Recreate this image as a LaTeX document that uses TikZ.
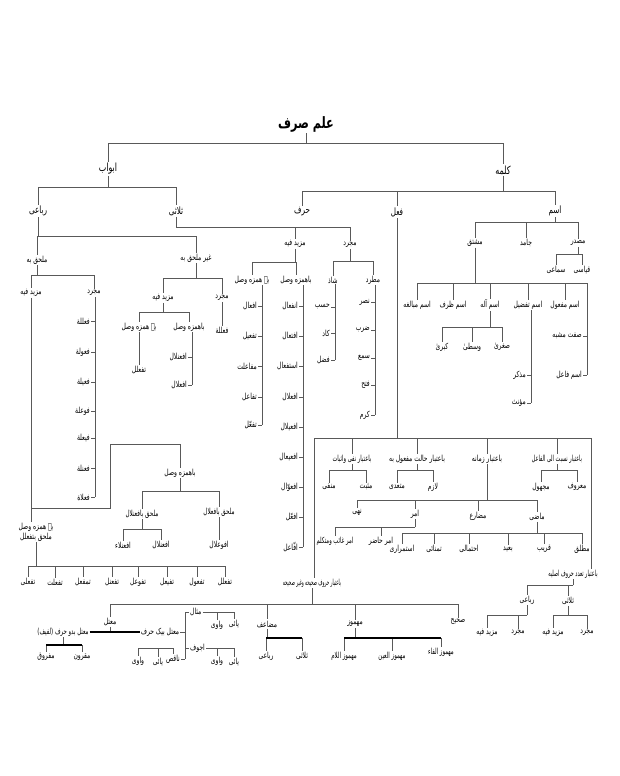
\documentclass[tikz,border=0pt]{standalone}
\usepackage{fontspec}
\usepackage{graphicx}
\TeXXeTstate=1
\newfontfamily\urfont[Script=Arabic]{DejaVu Sans}
\newcommand\ur[2][0.8]{\scalebox{#1}[1.12]{\beginR #2\endR}}
\newcommand\tb[3]{%
  \coordinate (tbY) at (0,#2);%
  \draw[ln] (#1.south) -- (#1.south |- tbY);%
  \foreach \c in {#3}{\draw[ln] (#1.south |- tbY) -| (\c.north);}%
}
\newcommand\tk[4]{%
  \coordinate (tkX) at (#2,0);%
  \draw[ln] (tkX |- #1.south) -- (tkX |- #4.east);%
  \foreach \c in {#3}{\draw[ln] (\c.east) -- (\c.east -| tkX);}%
}
\begin{document}
\begin{tikzpicture}[x=1pt,y=-1pt,
  ln/.style={draw=black!65,line width=0.55pt},
  thk/.style={draw=black,line width=1.4pt},
  lb/.style={inner sep=1pt,font=\urfont\fontsize{7.5}{9}\selectfont},
  l1/.style={lb,font=\urfont\fontsize{10}{11}\selectfont},
  l2/.style={lb,font=\urfont\fontsize{9}{10}\selectfont}]
\useasboundingbox (0,0) rectangle (620,776);
\fill[white] (0,0) rectangle (620,776);

% ---------- top
\node[lb,font=\urfont\bfseries\fontsize{14}{15}\selectfont] (root) at (306,124) {\ur{علم صرف}};
\node[l1] (abwab) at (108,169) {\ur{ابواب}};
\node[l1] (kalima) at (503,170) {\ur{کلمه}};
\node[l2] (rubai) at (38,211) {\ur{رباعی}};
\node[l2] (thulathi) at (176,211) {\ur{ثلاثی}};
\node[l2] (harf) at (302,212) {\ur{حرف}};
\node[l2] (fil) at (397,212) {\ur{فعل}};
\node[l2] (ism) at (555,211) {\ur{اسم}};
\tb{root}{143}{abwab,kalima}
\tb{abwab}{187}{rubai,thulathi}
\tb{kalima}{191}{harf,fil,ism}

% ---------- rubai
\node[lb] (mulhaq) at (37,260) {\ur{ملحق به}};
\node[lb] (ghair) at (196,258) {\ur{غیر ملحق به}};
\tb{rubai}{236}{mulhaq,ghair}
\node[lb] (mzA) at (31,293) {\ur{مزید فیه}};
\node[lb] (mjA) at (94,293) {\ur{مجرد}};
\tb{mulhaq}{275}{mzA,mjA}
\node[lb,anchor=east] (fa1) at (91,321) {\ur{فعللة}};
\node[lb,anchor=east] (fa2) at (91,352) {\ur{فعولة}};
\node[lb,anchor=east] (fa3) at (91,382) {\ur{فعیلة}};
\node[lb,anchor=east] (fa4) at (91,411) {\ur{فوعلة}};
\node[lb,anchor=east] (fa5) at (91,438) {\ur{فیعلة}};
\node[lb,anchor=east] (fa6) at (91,468) {\ur{فعنلة}};
\node[lb,anchor=east] (fa7) at (91,497) {\ur{فعلاة}};
\tk{mjA}{95}{fa1,fa2,fa3,fa4,fa5,fa6,fa7}{fa7}

\node[lb] (mzB) at (163,298) {\ur{مزید فیه}};
\node[lb] (mjB) at (222,298) {\ur{مجرد}};
\tb{ghair}{278}{mzB,mjB}
\node[lb] (fallala) at (222,330) {\ur{فعللة}};
\draw[ln] (mjB.south) -- (mjB.south |- fallala.north);
\node[lb] (bhB) at (139,327) {\ur{بے همزه وصل}};
\node[lb] (bwB) at (189,327) {\ur{باهمزه وصل}};
\tb{mzB}{312}{bhB,bwB}
\node[lb] (tafallul) at (139,370) {\ur{تفعلل}};
\draw[ln] (bhB.south) -- (bhB.south |- tafallul.north);
\node[lb,anchor=east] (ib1) at (188,357) {\ur{افعنلال}};
\node[lb,anchor=east] (ib2) at (188,385) {\ur{افعلال}};
\tk{bwB}{192}{ib1,ib2}{ib2}

% mulhaq mazid fih
\node[lb,align=center] (bhR) at (36,532) {\ur{بے همزه وصل}\\[1pt]\ur{ملحق بتفعلل}};
\node[lb] (bwR) at (180,473) {\ur{باهمزه وصل}};
\coordinate (r1) at (110,508);
\coordinate (r2) at (110,444);
\draw[ln] (mzA.south) -- (mzA.south |- bhR.north);
\draw[ln] (mzA.south |- r1) -- (r1) -- (r2) -| (bwR.north);
\node[lb] (mulhaqA) at (142,514) {\ur[0.75]{ملحق بافعنلال}};
\node[lb] (mulhaqB) at (219,512) {\ur[0.75]{ملحق بافعلال}};
\tb{bwR}{491}{mulhaqA,mulhaqB}
\node[lb] (ifanlaa) at (123,545) {\ur{افعنلاء}};
\node[lb] (ifanlal) at (161,545) {\ur{افعنلال}};
\tb{mulhaqA}{529}{ifanlaa,ifanlal}
\node[lb] (ifawlal) at (219,545) {\ur{افوعلال}};
\draw[ln] (mulhaqB.south) -- (mulhaqB.south |- ifawlal.north);
\node[lb] (b1) at (28,582) {\ur{تفعلی}};
\node[lb] (b2) at (55,582) {\ur{تفعلت}};
\node[lb] (b3) at (83,582) {\ur{تمفعل}};
\node[lb] (b4) at (112,582) {\ur{تفعنل}};
\node[lb] (b5) at (138,582) {\ur{تفوعل}};
\node[lb] (b6) at (167,582) {\ur{تفیعل}};
\node[lb] (b7) at (197,582) {\ur{تفعول}};
\node[lb] (b8) at (225,582) {\ur{تفعلل}};
\tb{bhR}{566}{b1,b2,b3,b4,b5,b6,b7,b8}

% ---------- thulathi / harf
\node[lb] (mzH) at (295,244) {\ur{مزید فیه}};
\node[lb] (mjH) at (350,245) {\ur{مجرد}};
\tb{thulathi}{227}{mzH,mjH}
\node[lb] (bhH) at (252,280) {\ur{بے همزه وصل}};
\node[lb] (bwH) at (296,280) {\ur{باهمزه وصل}};
\tb{mzH}{262}{bhH,bwH}
\node[lb,anchor=east] (h1) at (258,306) {\ur{افعال}};
\node[lb,anchor=east] (h2) at (258,336) {\ur{تفعیل}};
\node[lb,anchor=east] (h3) at (258,366) {\ur{مفاعلت}};
\node[lb,anchor=east] (h4) at (258,397) {\ur{تفاعل}};
\node[lb,anchor=east] (h5) at (258,425) {\ur{تفعّل}};
\tk{bhH}{262}{h1,h2,h3,h4,h5}{h5}
\node[lb,anchor=east] (g1) at (299,306) {\ur{انفعال}};
\node[lb,anchor=east] (g2) at (299,336) {\ur{افتعال}};
\node[lb,anchor=east] (g3) at (299,366) {\ur{استفعال}};
\node[lb,anchor=east] (g4) at (299,397) {\ur{افعلال}};
\node[lb,anchor=east] (g5) at (299,427) {\ur{افعیلال}};
\node[lb,anchor=east] (g6) at (299,457) {\ur{افعیعال}};
\node[lb,anchor=east] (g7) at (299,487) {\ur{افعوّال}};
\node[lb,anchor=east] (g8) at (299,517) {\ur{افعّل}};
\node[lb,anchor=east] (g9) at (299,547) {\ur{افّاعل}};
\tk{bwH}{303}{g1,g2,g3,g4,g5,g6,g7,g8,g9}{g9}
\node[lb] (shadh) at (333,280) {\ur{شاذ}};
\node[lb] (mutarrid) at (373,280) {\ur{مطرد}};
\tb{mjH}{261}{shadh,mutarrid}
\node[lb,anchor=east] (s1) at (331,307) {\ur{حسب}};
\node[lb,anchor=east] (s2) at (331,333) {\ur{کاد}};
\node[lb,anchor=east] (s3) at (331,360) {\ur{فضل}};
\tk{shadh}{335}{s1,s2,s3}{s3}
\node[lb,anchor=east] (m1) at (371,302) {\ur{نصر}};
\node[lb,anchor=east] (m2) at (371,330) {\ur{ضرب}};
\node[lb,anchor=east] (m3) at (371,358) {\ur{سمع}};
\node[lb,anchor=east] (m4) at (371,385) {\ur{فتح}};
\node[lb,anchor=east] (m5) at (371,415) {\ur{کرم}};
\tk{mutarrid}{375}{m1,m2,m3,m4,m5}{m5}

% ---------- ism
\node[lb] (mushtaq) at (475,243) {\ur{مشتق}};
\node[lb] (jamid) at (526,243) {\ur{جامد}};
\node[lb] (masdar) at (578,243) {\ur{مصدر}};
\tb{ism}{222}{mushtaq,jamid,masdar}
\node[lb] (samai) at (556,270) {\ur{سماعی}};
\node[lb] (qiyasi) at (582,270) {\ur{قیاسی}};
\tb{masdar}{254}{samai,qiyasi}
\node[lb] (mubalagha) at (417,305) {\ur{اسم مبالغه}};
\node[lb] (zarf) at (453,305) {\ur{اسم ظرف}};
\node[lb] (ala) at (490,305) {\ur{اسم آله}};
\node[lb] (tafzil) at (528,305) {\ur{اسم تفضیل}};
\node[lb] (mafool) at (565,305) {\ur{اسم مفعول}};
\tb{mushtaq}{283}{mubalagha,zarf,ala,tafzil,mafool}
\node[lb,anchor=east] (sifat) at (583,336) {\ur{صفت مشبه}};
\node[lb,anchor=east] (fail) at (583,375) {\ur{اسم فاعل}};
\coordinate (mR) at (587,283);
\draw[ln] (mafool.north |- mR) -- (mR) -- (mR |- fail.east);
\draw[ln] (sifat.east) -- (sifat.east -| mR);
\draw[ln] (fail.east) -- (fail.east -| mR);
\node[lb] (kubra) at (442,347) {\ur{کبریٰ}};
\node[lb] (wusta) at (472,347) {\ur{وسطیٰ}};
\node[lb] (sughra) at (502,347) {\ur{صغریٰ}};
\tb{ala}{327}{kubra,wusta,sughra}
\node[lb,anchor=east] (mudhakkar) at (527,375) {\ur{مذکر}};
\node[lb,anchor=east] (muannath) at (527,403) {\ur{مؤنث}};
\tk{tafzil}{531}{mudhakkar,muannath}{muannath}

% ---------- fil
\node[lb] (nafi) at (352,459) {\ur[0.7]{باعتبار نفی واثبات}};
\node[lb] (halat) at (417,459) {\ur{باعتبار حالت مفعول به}};
\node[lb] (zamana) at (487,459) {\ur{باعتبار زمانه}};
\node[lb] (nisbat) at (557,459) {\ur[0.66]{باعتبار نسبت الی الفاعل}};
\node[lb] (taaddud) at (573,574) {\ur[0.64]{باعتبار تعدد حروف اصلیه}};
\node[lb] (huruf) at (312,583) {\ur[0.54]{باعتبار حروف صحیحه وغیر صحیحه}};
\coordinate (fl) at (314,438);
\coordinate (fr) at (591,438);
\draw[ln] (fil.south) -- (fil.south |- fl);
\draw[ln] (fl) -- (fr);
\draw[ln] (fl) -- (fl |- huruf.north);
\draw[ln] (fr) -- (fr |- taaddud.north);
\foreach \c in {nafi,halat,zamana,nisbat}{\draw[ln] (\c.north |- fl) -- (\c.north);}

\node[lb] (manfi) at (329,487) {\ur{منفی}};
\node[lb] (muthbat) at (366,487) {\ur{مثبت}};
\tb{nafi}{470}{manfi,muthbat}
\node[lb] (mutaaddi) at (397,487) {\ur{متعدی}};
\node[lb] (lazim) at (433,487) {\ur{لازم}};
\tb{halat}{470}{mutaaddi,lazim}
\node[lb] (majhul) at (541,487) {\ur{مجهول}};
\node[lb] (maruf) at (577,487) {\ur{معروف}};
\tb{nisbat}{470}{majhul,maruf}
\node[lb] (nahi) at (357,512) {\ur{نهی}};
\node[lb] (amr) at (415,514) {\ur{امر}};
\node[lb] (mudari) at (478,516) {\ur{مضارع}};
\node[lb] (mazi) at (537,517) {\ur{ماضی}};
\tb{zamana}{500}{nahi,amr,mudari,mazi}
\node[lb] (amrghaib) at (335,541) {\ur[0.7]{امر غائب ومتکلم}};
\node[lb] (amrhazir) at (381,541) {\ur{امر حاضر}};
\tb{amr}{527}{amrghaib,amrhazir}
\node[lb] (istimrari) at (402,549) {\ur{استمراری}};
\node[lb] (tamannai) at (434,549) {\ur{تمنائی}};
\node[lb] (ihtimali) at (469,549) {\ur{احتمالی}};
\node[lb] (baid) at (508,549) {\ur{بعید}};
\node[lb] (qarib) at (544,549) {\ur{قریب}};
\node[lb] (mutlaq) at (582,549) {\ur{مطلق}};
\tb{mazi}{533}{istimrari,tamannai,ihtimali,baid,qarib,mutlaq}
\node[lb] (rubaiB) at (527,600) {\ur{رباعی}};
\node[lb] (thulathiB) at (568,601) {\ur{ثلاثی}};
\tb{taaddud}{585}{rubaiB,thulathiB}
\node[lb] (mzR1) at (487,633) {\ur{مزید فیه}};
\node[lb] (mjR1) at (518,633) {\ur{مجرد}};
\node[lb] (mzT1) at (553,633) {\ur{مزید فیه}};
\node[lb] (mjT1) at (587,633) {\ur{مجرد}};
\tb{rubaiB}{615}{mzR1,mjR1}
\tb{thulathiB}{615}{mzT1,mjT1}

% ---------- huruf sahiha
\node[lb] (mutall) at (110,622) {\ur{معتل}};
\node[lb] (muzaaf) at (267,624) {\ur{مضاعف}};
\node[lb] (mahmuz) at (355,624) {\ur{مهموز}};
\node[lb] (sahih) at (458,622) {\ur{صحیح}};
\tb{huruf}{604}{mutall,muzaaf,mahmuz,sahih}
\node[lb] (mahmuzlam) at (344,656) {\ur[0.72]{مهموز اللام}};
\node[lb] (mahmuzain) at (392,656) {\ur[0.72]{مهموز العین}};
\node[lb] (mahmuzfa) at (441,652) {\ur[0.72]{مهموز الفاء}};
\tb{mahmuz}{638}{mahmuzlam,mahmuzain,mahmuzfa}
\coordinate (hY) at (0,638);
\draw[thk] (mahmuzlam.north |- hY) -- (mahmuzfa.north |- hY);
\node[lb] (rubaiC) at (266,656) {\ur{رباعی}};
\node[lb] (thulathiC) at (302,656) {\ur{ثلاثی}};
\tb{muzaaf}{638}{rubaiC,thulathiC}
\draw[thk] (rubaiC.north |- hY) -- (thulathiC.north |- hY);

\node[lb] (lafif) at (63,632) {\ur[0.72]{معتل بدو حرف (لفیف)}};
\node[lb] (bayak) at (160,632) {\ur{معتل بیک حرف}};
\draw[ln] (mutall.south) -- (mutall.south |- lafif.east);
\draw[thk] (lafif.east) -- (bayak.west);
\node[lb] (mafruq) at (46,657) {\ur{مفروق}};
\node[lb] (maqrun) at (82,657) {\ur{مقرون}};
\tb{lafif}{645}{mafruq,maqrun}
\coordinate (lY) at (0,645);
\draw[thk] (mafruq.north |- lY) -- (maqrun.north |- lY);

\node[lb,anchor=west] (mithal) at (189,612) {\ur{مثال}};
\node[lb,anchor=west] (ajwaf) at (189,648) {\ur{اجوف}};
\node[lb,anchor=east] (naqis) at (181,659) {\ur{ناقص}};
\coordinate (bx) at (185,0);
\draw[ln] (bayak.east) -- (bayak.east -| bx);
\draw[ln] (bx |- mithal.west) -- (bx |- naqis.east);
\draw[ln] (mithal.west) -- (mithal.west -| bx);
\draw[ln] (ajwaf.west) -- (ajwaf.west -| bx);
\draw[ln] (naqis.east) -- (naqis.east -| bx);
\node[lb] (wawi1) at (217,625) {\ur{واوی}};
\node[lb] (yai1) at (234,624) {\ur{یائی}};
\draw[ln] (mithal.east) -| (yai1.north);
\draw[ln] (wawi1.north |- mithal.east) -- (wawi1.north);
\node[lb] (wawi2) at (217,661) {\ur{واوی}};
\node[lb] (yai2) at (234,662) {\ur{یائی}};
\draw[ln] (ajwaf.east) -| (yai2.north);
\draw[ln] (wawi2.north |- ajwaf.east) -- (wawi2.north);
\node[lb] (wawi3) at (138,661) {\ur{واوی}};
\node[lb] (yai3) at (158,662) {\ur{یائی}};
\coordinate (nY) at (0,648);
\draw[ln] (wawi3.north |- nY) -- (naqis.north |- nY);
\foreach \c in {wawi3,yai3,naqis}{\draw[ln] (\c.north |- nY) -- (\c.north);}
\end{tikzpicture}
\end{document}
